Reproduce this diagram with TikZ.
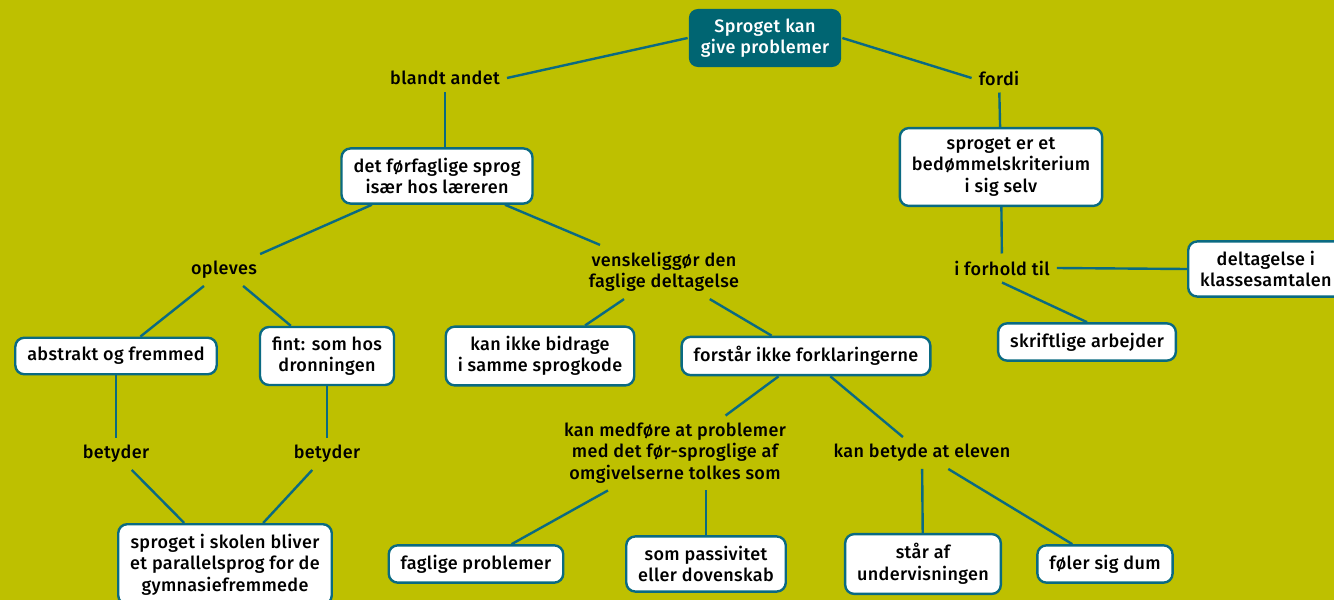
\documentclass[tikz,border=0pt]{standalone}
\usepackage{fontspec}
\setmainfont{Fira Sans}[LetterSpace=2.0, UprightFont={* Medium}]
\usepackage{xcolor}
\usetikzlibrary{calc}
\definecolor{themeOlive}{RGB}{190, 192, 0}
\definecolor{themeTeal}{RGB}{0, 101, 114}
\definecolor{themeLine}{RGB}{10, 106, 130}

\begin{document}
\begin{tikzpicture} [
        x=1pt, y=-1pt,
        font=\fontsize{18}{21.5}\selectfont,
        box/.style={draw=themeLine, line width=2.4pt, fill=white, rounded corners=9pt,
            align=center, inner xsep=12pt, inner ysep=9.5pt, minimum height=35pt},
        head/.style={box, draw=none, fill=themeTeal, text=white},
        lbl/.style={align=center, inner sep=7pt},
        link/.style={draw=themeLine, line width=2.4pt}
    ]
        \fill[themeOlive] (0,0) rectangle (1334,600);
        \useasboundingbox (0,0) rectangle (1334,600);

        % ROOT
        \node [head] (root) at (765, 38) {Sproget kan\\give problemer};

        % LEFT: blandt andet
        \node [lbl] (blandt) at (445, 78) {blandt andet};
        \node [box] (forfaglig) at (437, 176) {det førfaglige sprog\\især hos læreren};
        \node [lbl] (opleves) at (224, 270) {opleves};
        \node [lbl] (vansk) at (664, 272) {venskeliggør den\\faglige deltagelse};
        \node [box] (abstrakt) at (116, 356) {abstrakt og fremmed};
        \node [box] (fint) at (327, 356) {fint: som hos\\dronningen};
        \node [box] (bidrage) at (540, 356) {kan ikke bidrage\\i samme sprogkode};
        \node [box] (forstaar) at (806, 356) {forstår ikke forklaringerne};
        \node [lbl] (betyderL) at (116, 454) {betyder};
        \node [lbl] (betyderR) at (327, 454) {betyder};
        \node [box, anchor=north] (parallel) at (225, 523) {sproget i skolen bliver\\et parallelsprog for de\\gymnasiefremmede};
        \node [lbl] (medfoere) at (675, 453) {kan medføre at problemer\\med det før-sproglige af\\omgivelserne tolkes som};
        \node [lbl] (kanbetyde) at (922, 453) {kan betyde at eleven};
        \node [box] (fagprob) at (476, 564) {faglige problemer};
        \node [box] (passiv) at (706, 564) {som passivitet\\eller dovenskab};
        \node [box] (staar) at (923, 564) {står af\\undervisningen};
        \node [box] (dum) at (1105, 564) {føler sig dum};

        % RIGHT: fordi
        \node [lbl] (fordi) at (999, 78) {fordi};
        \node [box] (kriterium) at (1001, 167) {sproget er et\\bedømmelskriterium\\i sig selv};
        \node [lbl] (forhold) at (1002, 268) {i forhold til};
        \node [box, anchor=west] (deltag) at (1187, 269) {deltagelse i\\klassesamtalen};
        \node [box] (skrift) at (1087, 342) {skriftlige arbejder};

        % LINKS
        \draw [link] (root.west) -- (blandt.east);
        \draw [link] (root.east) -- (fordi.west);
        \draw [link] (forhold.east) -- (deltag.west);
        \draw [link] (forhold.south) -- (skrift.north);
        \draw [link] (passiv.north) -- (passiv.north |- medfoere.south);
        \draw [link] (blandt.south) -- (blandt.south |- forfaglig.north);
        \foreach \a/\b in {forfaglig/opleves, forfaglig/vansk,
                opleves/abstrakt, opleves/fint, vansk/bidrage, vansk/forstaar,
                abstrakt/betyderL, fint/betyderR, betyderL/parallel, betyderR/parallel,
                forstaar/medfoere, forstaar/kanbetyde, medfoere/fagprob,
                kanbetyde/staar, kanbetyde/dum, fordi/kriterium, kriterium/forhold} {
            \draw [link] (\a) -- (\b);
        }
    \end{tikzpicture}
\end{document}
